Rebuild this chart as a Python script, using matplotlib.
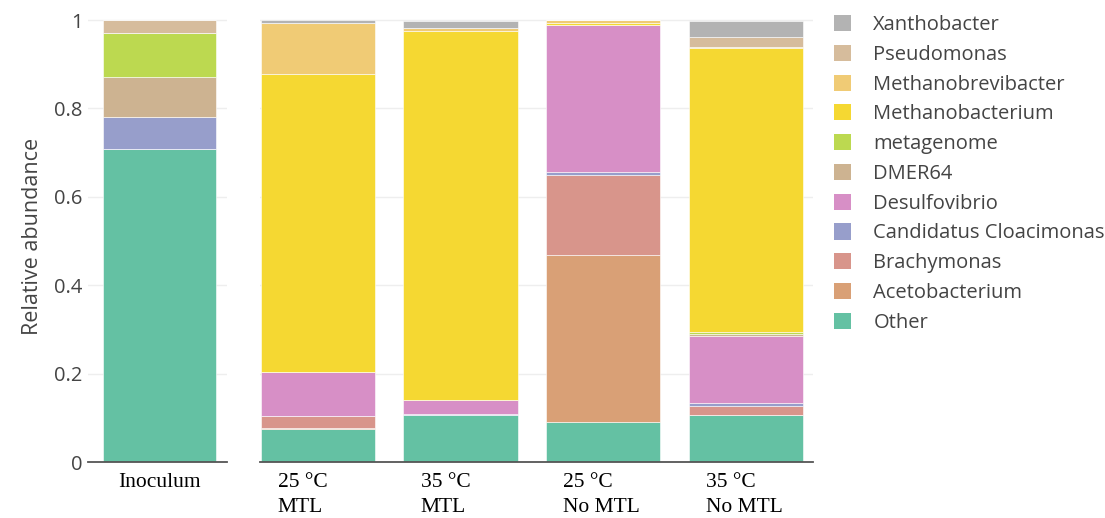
import matplotlib
matplotlib.use("Agg")
import matplotlib.pyplot as plt
from matplotlib.patches import Patch
from matplotlib.transforms import blended_transform_factory
import numpy as np

# ---- data ----
samples_left = ["Inoculum"]
samples_right = ["25 °C\nMTL", "35 °C\nMTL", "25 °C\nNo MTL", "35 °C\nNo MTL"]

# stacking order bottom -> top
taxa = ["Other", "Acetobacterium", "Brachymonas", "Candidatus Cloacimonas",
        "Desulfovibrio", "DMER64", "metagenome", "Methanobacterium",
        "Methanobrevibacter", "Pseudomonas", "Xanthobacter"]

# values: Inoculum, 25C MTL, 35C MTL, 25C No MTL, 35C No MTL
other = [0.708, 0.075, 0.106, 0.091, 0.106]
acetobacterium = [0.0, 0.003, 0.0, 0.377, 0.0]
brachymonas = [0.0, 0.026, 0.0, 0.181, 0.021]
cloacimonas = [0.073, 0.0, 0.003, 0.007, 0.007]
desulfovibrio = [0.0, 0.100, 0.031, 0.333, 0.152]
dmer64 = [0.091, 0.0, 0.0, 0.0, 0.003]
metagenome = [0.098, 0.0, 0.0, 0.0, 0.005]
methanobacterium = [0.0, 0.674, 0.836, 0.005, 0.642]
methanobrevibacter = [0.0, 0.116, 0.005, 0.006, 0.004]
pseudomonas = [0.030, 0.0, 0.0, 0.0, 0.022]
xanthobacter = [0.0, 0.007, 0.017, 0.0, 0.036]

values = [other, acetobacterium, brachymonas, cloacimonas, desulfovibrio,
          dmer64, metagenome, methanobacterium, methanobrevibacter,
          pseudomonas, xanthobacter]

colors = ["#64c1a3", "#d9a076", "#d8958b", "#979ecb", "#d78fc6",
          "#cdb391", "#bcd950", "#f5d832", "#f0cb75", "#d6bc9c", "#b3b3b3"]

SANS = "Open Sans"
SERIF = "Liberation Serif"
TXT = "#444444"

fig = plt.figure(figsize=(11.05, 5.18), dpi=100)
W, H = 1105, 518
y0_px, y1_px = 462, 20
ytop = 1.02
h = (y0_px - y1_px) * ytop / H
bottom = (H - y0_px) / H
axL = fig.add_axes([88 / W, bottom, 139 / W, h])
axR = fig.add_axes([260 / W, bottom, 553 / W, h])

def draw(ax, idx, xs):
    base = np.zeros(len(idx))
    for vals, col in zip(values, colors):
        v = np.array([vals[i] for i in idx])
        ax.bar(xs, v, bottom=base, width=0.8, color=col,
               edgecolor="white", linewidth=0.4, zorder=3)
        base += v

draw(axL, [0], np.arange(1))
draw(axR, [1, 2, 3, 4], np.arange(4))

axL.set_xlim(-0.51, 0.48)
axR.set_xlim(-0.405, 3.47)

for ax in (axL, axR):
    ax.set_ylim(0, ytop)
    for s in ("top", "right", "left"):
        ax.spines[s].set_visible(False)
    ax.spines["bottom"].set_color("#555555")
    ax.spines["bottom"].set_linewidth(1.3)
    ax.spines["bottom"].set_zorder(5)
    ax.set_yticks([0, 0.2, 0.4, 0.6, 0.8, 1.0])
    for yv in [0.2, 0.4, 0.6, 0.8, 1.0]:
        ax.axhline(yv, color="#eeeeee", lw=1.0, zorder=1)
    ax.set_xticks([])
    ax.tick_params(axis="y", length=0)

axL.set_yticklabels(["0", "0.2", "0.4", "0.6", "0.8", "1"],
                    fontfamily=SANS, fontsize=14.5, color=TXT)
axL.tick_params(axis="y", pad=4)
axR.set_yticklabels([])
axL.set_ylabel("Relative abundance", fontfamily=SANS, fontsize=15.5,
               color=TXT, labelpad=8)

# x labels
trL = blended_transform_factory(axL.transData, axL.transAxes)
axL.text(0, -0.025, samples_left[0], transform=trL, ha="center", va="top",
         fontfamily=SERIF, fontsize=15.5, color="black")
trR = blended_transform_factory(axR.transData, axR.transAxes)
for i, lab in enumerate(samples_right):
    axR.text(i - 0.28, -0.025, lab, transform=trR, ha="left", va="top",
             fontfamily=SERIF, fontsize=15.5, color="black",
             linespacing=1.42)

# legend
handles = [Patch(facecolor=c, edgecolor="none") for c in colors][::-1]
labels = taxa[::-1]
fig.legend(handles, labels, loc="upper left",
           bbox_to_anchor=(826 / W, 1 - 7 / H), frameon=False,
           prop={"family": SANS, "size": 14.5}, labelcolor=TXT,
           handlelength=0.85, handleheight=0.85, handletextpad=1.1,
           labelspacing=0.485, borderaxespad=0)

fig.savefig("out.png", dpi=100)
